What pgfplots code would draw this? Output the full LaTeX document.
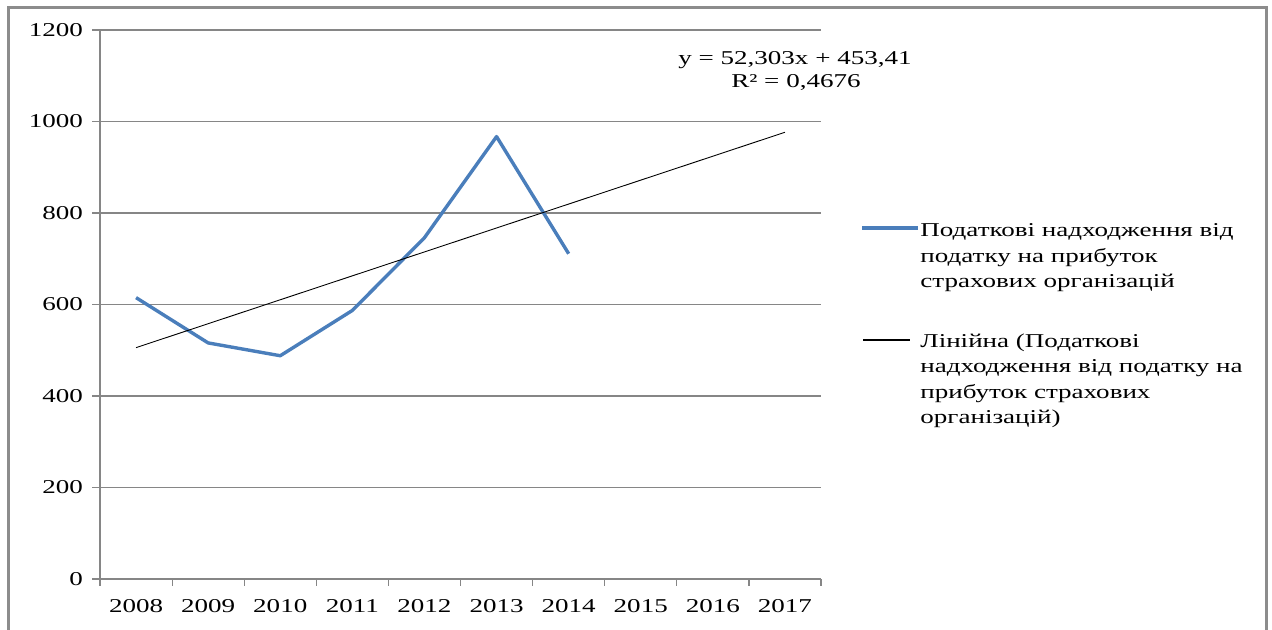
\documentclass[border=0pt]{standalone}
\usepackage{fontspec}
\setmainfont{Liberation Serif}[FakeStretch=1.38]
\usepackage{pgfplots}
\pgfplotsset{compat=1.18}
\definecolor{gridgray}{HTML}{868686}
\definecolor{framegray}{HTML}{8C8C8C}
\definecolor{serblue}{HTML}{4A7EBB}
\begin{document}
\begin{tikzpicture}[font=\fontsize{9.8}{12.5}\selectfont]
\useasboundingbox (0pt,0pt) rectangle (636pt,315pt);
\draw[framegray, line width=1.5pt] (4pt,-2pt) -- (4pt,311pt) -- (633pt,311pt) -- (633pt,-2pt);
\begin{axis}[
  at={(50pt,25.5pt)}, anchor=south west,
  scale only axis, width=360.5pt, height=274.5pt,
  xmin=-0.5, xmax=9.5, ymin=0, ymax=1200,
  axis x line*=bottom, axis y line*=left,
  axis line style={gridgray, line width=0.6pt},
  xtick={0,...,9},
  xticklabels={2008,2009,2010,2011,2012,2013,2014,2015,2016,2017},
  minor xtick={-0.5,0.5,...,9.5},
  ytick={0,200,...,1200},
  tick align=outside,
  major tick length=4pt, minor tick length=3.5pt,
  major x tick style={draw=none},
  minor x tick style={gridgray, line width=0.6pt},
  ytick style={gridgray, line width=0.6pt},
  ymajorgrids, grid style={gridgray, line width=0.6pt},
  /pgf/number format/assume math mode=true,
  /pgf/number format/1000 sep={},
  tick label style={font=\fontsize{9.8}{12}\selectfont, black},
  yticklabel style={xshift=-1pt},
  xticklabel style={yshift=-2.8pt},
  clip=false,
]
\addplot[serblue, line width=1.7pt, line join=round] coordinates {
  (0,615) (1,516) (2,488) (3,587) (4,746) (5,967) (6,711)
};
\addplot[black, line width=0.45pt] coordinates {
  (0,505.71) (1,558.02) (2,610.32) (3,662.62) (4,714.93)
  (5,767.23) (6,819.53) (7,871.84) (8,924.14) (9,976.44)
};
\end{axis}
% trend equation
\node[anchor=base] at (397.5pt,282.5pt) {y = 52,303x + 453,41};
\node[anchor=base] at (398pt,271pt) {R² = 0,4676};
% legend
\draw[serblue, line width=1.7pt] (431pt,201pt) -- (459pt,201pt);
\node[anchor=base west, inner sep=0pt] at (460pt,196.5pt) {Податкові надходження від};
\node[anchor=base west, inner sep=0pt] at (460pt,183.8pt) {податку на прибуток};
\node[anchor=base west, inner sep=0pt] at (460pt,171.3pt) {страхових організацій};
\draw[black, line width=0.6pt] (431.5pt,145pt) -- (455pt,145pt);
\node[anchor=base west, inner sep=0pt] at (460pt,141pt) {Лінійна (Податкові};
\node[anchor=base west, inner sep=0pt] at (460pt,128.5pt) {надходження від податку на};
\node[anchor=base west, inner sep=0pt] at (460pt,115.8pt) {прибуток страхових};
\node[anchor=base west, inner sep=0pt] at (460pt,103.3pt) {організацій)};
\end{tikzpicture}
\end{document}
